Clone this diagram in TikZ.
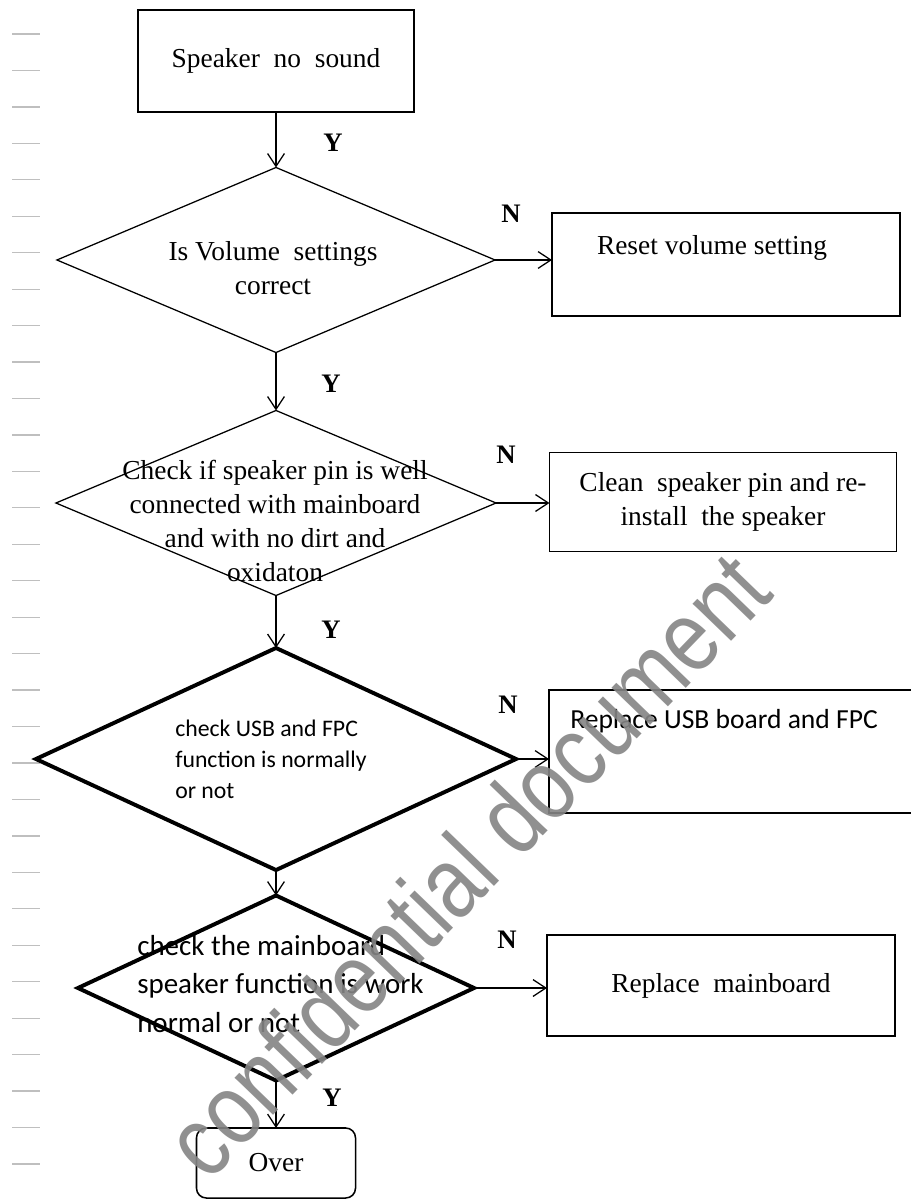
\documentclass[tikz,border=0pt]{standalone}
\usepackage{fontspec}
\setmainfont{Liberation Serif}
\newfontfamily\calfont{Carlito}
\newfontfamily\wmfont{Liberation Sans}
\usetikzlibrary{shapes.geometric,arrows.meta}

\begin{document}
\begin{tikzpicture}[x=0.025cm,y=-0.025cm,
    box/.style={draw,line width=1.1pt,inner sep=0pt,outer sep=0pt,align=center,
      font=\fontsize{19.5}{24}\selectfont},
    thinchoice/.style={draw,diamond,line width=0.9pt,inner sep=0pt,outer sep=0pt},
    thickchoice/.style={draw,diamond,line width=2.8pt,inner sep=0pt,outer sep=0pt},
    serifnote/.style={align=center,inner sep=0pt,font=\fontsize{19.5}{24}\selectfont},
    sansnote/.style={align=left,inner sep=0pt,anchor=west},
    yn/.style={inner sep=0pt,font=\fontsize{19}{19}\selectfont\bfseries},
    arr/.style={line width=0.9pt,-{Straight Barb[length=3.2mm,width=4.2mm]}},
    margin/.style={draw=black!25,line width=0.9pt},
    wmark/.style={text=black!48,opacity=0.9,inner sep=0pt,
      font=\wmfont\fontsize{72}{72}\selectfont}]
  \path[use as bounding box,fill=white] (0,0) rectangle (910,1200);

  % page marks on the left
  \foreach \i in {0,...,31}
    \draw[margin] (12,{34+36.45*\i}) -- (40,{34+36.45*\i});

  % main column
  \node[box,minimum width=6.9cm,minimum height=2.55cm] (start) at (276,61) {Speaker\ \ no\ \ sound};
  \node[thinchoice,minimum width=10.95cm,minimum height=4.625cm] (vol) at (276,260) {};
  \node[serifnote] (voltext) at (273,268) {Is Volume\ \ settings\\correct};
  \node[thinchoice,minimum width=11cm,minimum height=4.625cm] (pin) at (276,503) {};
  \node[serifnote,font=\fontsize{19.5}{24.2}\selectfont] (pintext) at (275,521)
    {Check if speaker pin is well\\connected with mainboard\\and with no dirt and\\oxidaton};
  \node[thickchoice,minimum width=12cm,minimum height=5.55cm] (usb) at (276,759) {};
  \node[sansnote,font=\calfont\fontsize{16.9}{22}\selectfont] (usbtext) at (175,759)
    {check USB and FPC\\function is normally\\or not};
  \node[thickchoice,minimum width=9.9cm,minimum height=4.625cm] (mb) at (276,988) {};
  \node[sansnote,font=\calfont\fontsize{20.6}{27.7}\selectfont] (mbtext) at (137,984)
    {check the mainboard\\speaker function is work\\normal or not};
  \node[box,rounded corners=7pt,minimum width=3.975cm,minimum height=1.75cm] (over) at (276,1163) {Over};

  % right column
  \node[box,anchor=north west,minimum width=8.7cm,minimum height=2.575cm] (reset) at (552,213) {};
  \node[serifnote] (resettext) at (712,248) {Reset volume setting};
  \node[box,minimum width=8.675cm,minimum height=2.475cm] (clean) at (723,502)
    {Clean\ \ speaker pin\ and\ re-\\install\ \ the speaker};
  \node[box,anchor=north west,minimum width=9.2cm,minimum height=3.075cm] (usbfix) at (549,690) {};
  \node[sansnote,font=\calfont\fontsize{19.6}{24}\selectfont] (usbfixtext) at (570,721)
    {Replace USB board and FPC};
  \node[box,minimum width=8.7cm,minimum height=2.525cm] (mbfix) at (721,985.5) {Replace\ \ mainboard};

  % Y / N marks
  \node[yn] (y1) at (333,143) {Y};
  \node[yn] (n1) at (511,214) {N};
  \node[yn] (y2) at (331,384) {Y};
  \node[yn] (n2) at (506,455) {N};
  \node[yn] (y3) at (331,630) {Y};
  \node[yn] (n3) at (508,705) {N};
  \node[yn] (n4) at (507,940) {N};
  \node[yn] (y5) at (332,1098) {Y};

  \begin{scope}[arr]
    \draw (start) -- (vol);
    \draw (vol) -- (pin);
    \draw (pin) -- (usb);
    \draw (usb) -- (mb);
    \draw (mb) -- (over);
    \draw (vol.east) -- (vol.east -| reset.west);
    \draw (pin.east) -- (pin.east -| clean.west);
    \draw (usb.east) -- (usb.east -| usbfix.west);
    \draw (mb.east) -- (mb.east -| mbfix.west);
  \end{scope}

  % watermark
  \node[wmark,rotate=46] (wm) at (466,864) {\scalebox{0.83}[1]{confidential document}};
\end{tikzpicture}
\end{document}
